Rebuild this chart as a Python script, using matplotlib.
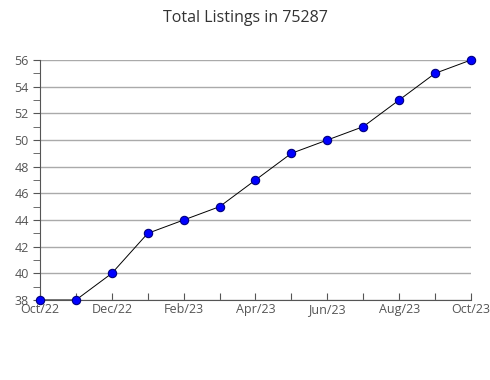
import matplotlib.pyplot as plt
import numpy as np

plt.rcParams['font.family'] = ['Open Sans', 'DejaVu Sans']

months = ['Oct/22', 'Nov/22', 'Dec/22', 'Jan/23', 'Feb/23', 'Mar/23', 'Apr/23',
          'May/23', 'Jun/23', 'Jul/23', 'Aug/23', 'Sep/23', 'Oct/23']
listings = [38, 38, 40, 43, 44, 45, 47, 49, 50, 51, 53, 55, 56]

fig = plt.figure(figsize=(4.9, 3.8), dpi=100)
ax = fig.add_axes([0.0816, 0.2105, 0.8796, 0.6316])

x = np.arange(len(months))
ax.plot(x, listings, color='black', linewidth=0.7, zorder=3)
ax.plot(x, listings, linestyle='none', marker='o', markersize=6,
        markerfacecolor='#0000ff', markeredgecolor='#000080', markeredgewidth=0.8,
        zorder=4, clip_on=False)

ax.set_xlim(0, len(months) - 1)
ax.set_ylim(38, 56)
ax.set_xticks(x)
ax.set_xticklabels([m if i % 2 == 0 else '' for i, m in enumerate(months)])
ax.set_yticks(np.arange(38, 57, 2))
ax.set_yticks(np.arange(38, 57, 1), minor=True)

ax.grid(True, axis='y', color='#aaaaaa', linewidth=1)
ax.set_axisbelow(True)
for s in ['top', 'right']:
    ax.spines[s].set_visible(False)
for s in ['left', 'bottom']:
    ax.spines[s].set_color('#555555')

ax.tick_params(axis='x', direction='in', length=5, color='#555555',
               labelsize=9, labelcolor='#555555', pad=2)
ax.tick_params(axis='y', which='both', direction='out', length=5, color='#555555',
               labelsize=9, labelcolor='#555555', pad=3)

fig.suptitle('Total Listings in 75287', y=0.975, fontsize=11.5, color='#333333')

fig.savefig('out.png', dpi=100)
